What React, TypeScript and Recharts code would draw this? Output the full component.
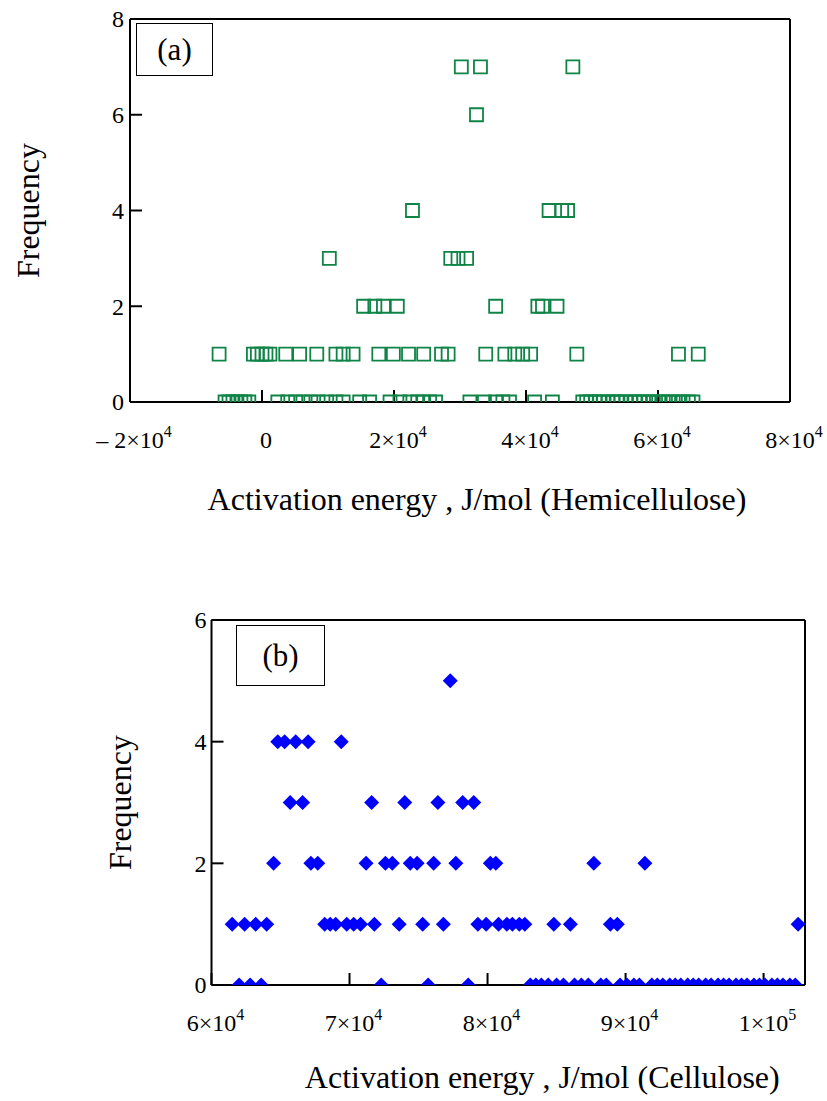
import React from "react";
import { Label, Scatter, ScatterChart, XAxis, YAxis } from "recharts";

const SERIF = '"Liberation Serif", "Times New Roman", serif';

// Hemicellulose: activation energies (J/mol) grouped by frequency
const hemiAt0 = [
  -5600, -5000, -4400, -3800, -3200, -2600, -2000, 2400, 3900, 5100, 6200, 7400,
  8500, 9800, 11200, 12300, 14800, 16300, 19400, 20900, 22400, 23600, 24500,
  25400, 26300, 31500, 33700, 35400, 36500, 37500, 41300, 44000, 48600, 49200,
  49800, 50500, 51100, 51700, 52400, 53200, 53800, 54400, 55100, 55900, 56500,
  57200, 57800, 58600, 59300, 60100, 60800, 61600, 62300, 63100, 63800, 64600,
  65300,
];
const hemiAt1 = [
  -6500, -1300, -700, 0, 600, 1200, 3600, 5700, 8300, 11200, 12300, 13800,
  17700, 19900, 22200, 24500, 27200, 28200, 33900, 36800, 38300, 39500, 40700,
  47700, 63100, 66100,
];
const hemiAt2 = [15400, 17100, 18400, 20500, 35400, 41800, 42500, 44700];
const hemiAt3 = [10200, 28600, 29700, 31000];
const hemiAt4 = [22800, 43500, 45400, 46300];
const hemiAt6 = [32500];
const hemiAt7 = [30200, 33100, 47100];

// Cellulose: activation energies (J/mol) grouped by frequency
const celluAt0 = [
  62000, 62800, 63600, 72300, 75700, 78600, 83100, 83500, 83900, 84400, 85000,
  85500, 86300, 86800, 87300, 88200, 88600, 89600, 90100, 90600, 91000, 91900,
  92300, 92700, 93200, 93600, 94000, 94500, 94900, 95300, 95800, 96200, 96700,
  97100, 97500, 98000, 98400, 98800, 99300, 99700, 100100, 100600, 101000,
  101400, 101900, 102300,
];
const celluAt1 = [
  61500, 62400, 63200, 64000, 68200, 68600, 69000, 69800, 70300, 70800, 71800,
  73600, 75300, 76800, 79300, 79900, 80800, 81400, 81800, 82300, 82700, 84800,
  86000, 88900, 89400, 102500,
];
const celluAt2 = [
  64500, 67200, 67700, 71200, 72600, 73100, 74400, 74900, 76100, 77700, 80200,
  80600, 87700, 91400,
];
const celluAt3 = [65700, 66600, 71600, 74000, 76400, 78200, 79000];
const celluAt4 = [64800, 65300, 66100, 67000, 69400];
const celluAt5 = [77300];

const hemiXTicks = [-20000, 0, 20000, 40000, 60000, 80000];
const hemiYTicks = [0, 2, 4, 6, 8];
const celluXTicks = [60000, 70000, 80000, 90000, 100000];
const celluYTicks = [0, 2, 4, 6];

type Pt = { x: number; y: number };

const toPoints = (rows: [number, number[]][]): Pt[] =>
  rows.flatMap(([freq, xs]) => xs.map((x) => ({ x, y: freq })));

const hemiData = toPoints([
  [0, hemiAt0],
  [1, hemiAt1],
  [2, hemiAt2],
  [3, hemiAt3],
  [4, hemiAt4],
  [6, hemiAt6],
  [7, hemiAt7],
]);

const celluData = toPoints([
  [0, celluAt0],
  [1, celluAt1],
  [2, celluAt2],
  [3, celluAt3],
  [4, celluAt4],
  [5, celluAt5],
]);

const axisStyle = { stroke: "#000", strokeWidth: 2 };

// sizes reserved for the axes
const LEFT_W = 60;
const BOTTOM_H = 60;
const TOP_H = 10;
const RIGHT_W = 10;

// open square; points sitting on the baseline only show their upper half
const OpenSquare = (props: any) => {
  const { cx, cy, payload } = props;
  const h = 6.5;
  const d =
    payload.y === 0
      ? `M${cx - h},${cy} L${cx - h},${cy - h} L${cx + h},${cy - h} L${cx + h},${cy}`
      : `M${cx - h},${cy - h} L${cx + h},${cy - h} L${cx + h},${cy + h} L${cx - h},${cy + h} Z`;
  return <path d={d} fill="none" stroke="#0f8446" strokeWidth={1.8} />;
};

const FilledDiamond = (props: any) => {
  const { cx, cy, payload } = props;
  const h = 7.5;
  const d =
    payload.y === 0
      ? `M${cx - h},${cy} L${cx},${cy - h} L${cx + h},${cy} Z`
      : `M${cx - h},${cy} L${cx},${cy - h} L${cx + h},${cy} L${cx},${cy + h} Z`;
  return <path d={d} fill="#0000ff" stroke="none" />;
};

// "m×10^e" tick labels
const PowerTick = (props: any) => {
  const { x, y, payload } = props;
  const v: number = payload.value;
  const common = {
    x: x + 4,
    y: y + 46,
    textAnchor: "middle" as const,
    fontFamily: SERIF,
    fontSize: 24,
    fill: "#000",
  };
  if (v === 0) return <text {...common}>0</text>;
  const exp = Math.floor(Math.log10(Math.abs(v)));
  const mant = Math.round(Math.abs(v) / Math.pow(10, exp));
  return (
    <text {...common}>
      {v < 0 ? "\u2013 " : ""}
      {mant}×10
      <tspan dy={-11} fontSize={16}>
        {exp}
      </tspan>
    </text>
  );
};

const PlainTick = (props: any) => {
  const { x, y, payload } = props;
  return (
    <text
      x={x}
      y={y}
      dy="0.35em"
      textAnchor="end"
      fontFamily={SERIF}
      fontSize={24}
      fill="#000"
    >
      {payload.value}
    </text>
  );
};

const xTitle = (text: string, dx: number, dy: number) => (props: any) => {
  const vb = props.viewBox || {};
  return (
    <text
      x={vb.x + vb.width / 2 + dx}
      y={vb.y + dy}
      textAnchor="middle"
      fontFamily={SERIF}
      fontSize={32}
      fill="#000"
    >
      {text}
    </text>
  );
};

const yTitle = (dx: number) => (props: any) => {
  const vb = props.viewBox || {};
  const cx = vb.x + vb.width - dx;
  const cy = vb.y + vb.height / 2;
  return (
    <text
      x={cx}
      y={cy}
      dy="0.35em"
      textAnchor="middle"
      transform={`rotate(-90, ${cx}, ${cy})`}
      fontFamily={SERIF}
      fontSize={32}
      fill="#000"
    >
      Frequency
    </text>
  );
};

const PanelTag: React.FC<{ text: string; left: number; top: number; w: number; h: number }> = ({
  text,
  left,
  top,
  w,
  h,
}) => (
  <div
    style={{
      position: "absolute",
      left,
      top,
      width: w,
      height: h,
      boxSizing: "border-box",
      border: "1.5px solid #000",
      background: "#fff",
      display: "flex",
      alignItems: "center",
      justifyContent: "center",
      fontFamily: SERIF,
      fontSize: 31,
      lineHeight: 1,
    }}
  >
    {text}
  </div>
);

const App: React.FC = () => {
  return (
    <div
      style={{
        position: "absolute",
        left: 0,
        top: 0,
        width: 827,
        height: 1101,
        background: "#fff",
        overflow: "hidden",
      }}
    >
      {/* (a) hemicellulose: plot box 130..790 x 19..402 */}
      <div style={{ position: "absolute", left: 0, top: 0 }}>
        <ScatterChart
          width={827}
          height={540}
          margin={{
            top: 19 - TOP_H,
            right: 37 - RIGHT_W,
            bottom: 138 - BOTTOM_H,
            left: 130 - LEFT_W,
          }}
        >
          <XAxis
            type="number"
            dataKey="x"
            domain={[-20000, 80000]}
            ticks={hemiXTicks}
            interval={0}
            height={BOTTOM_H}
            axisLine={axisStyle}
            tickLine={axisStyle}
            tickSize={-12}
            tickMargin={12}
            tick={<PowerTick />}
            allowDataOverflow
          >
            <Label content={xTitle("Activation energy , J/mol (Hemicellulose)", 17, 108)} />
          </XAxis>
          <XAxis
            xAxisId="top"
            orientation="top"
            type="number"
            domain={[-20000, 80000]}
            ticks={hemiXTicks}
            interval={0}
            height={TOP_H}
            axisLine={axisStyle}
            tickLine={axisStyle}
            tickSize={-12}
            tick={false}
            allowDataOverflow
          />
          <YAxis
            type="number"
            dataKey="y"
            domain={[0, 8]}
            ticks={hemiYTicks}
            interval={0}
            width={LEFT_W}
            axisLine={axisStyle}
            tickLine={axisStyle}
            tickSize={-12}
            tickMargin={18}
            tick={<PlainTick />}
            allowDataOverflow
          >
            <Label content={yTitle(102)} />
          </YAxis>
          <YAxis
            yAxisId="right"
            orientation="right"
            type="number"
            domain={[0, 8]}
            ticks={hemiYTicks}
            interval={0}
            width={RIGHT_W}
            axisLine={axisStyle}
            tickLine={axisStyle}
            tickSize={-12}
            tick={false}
            allowDataOverflow
          />
          <Scatter data={hemiData} shape={<OpenSquare />} isAnimationActive={false} />
        </ScatterChart>
        <PanelTag text="(a)" left={136} top={23} w={77} h={53} />
      </div>

      {/* (b) cellulose: plot box 211.5..805 x 620..985 */}
      <div style={{ position: "absolute", left: 0, top: 560 }}>
        <ScatterChart
          width={827}
          height={541}
          margin={{
            top: 60 - TOP_H,
            right: 22 - RIGHT_W,
            bottom: 116 - BOTTOM_H,
            left: 211.5 - LEFT_W,
          }}
        >
          <XAxis
            type="number"
            dataKey="x"
            domain={[60000, 103000]}
            ticks={celluXTicks}
            interval={0}
            height={BOTTOM_H}
            axisLine={axisStyle}
            tickLine={axisStyle}
            tickSize={-12}
            tickMargin={12}
            tick={<PowerTick />}
            allowDataOverflow
          >
            <Label content={xTitle("Activation energy , J/mol (Cellulose)", 34, 103)} />
          </XAxis>
          <XAxis
            xAxisId="top"
            orientation="top"
            type="number"
            domain={[60000, 103000]}
            ticks={celluXTicks}
            interval={0}
            height={TOP_H}
            axisLine={axisStyle}
            tickLine={axisStyle}
            tickSize={-12}
            tick={false}
            allowDataOverflow
          />
          <YAxis
            type="number"
            dataKey="y"
            domain={[0, 6]}
            ticks={celluYTicks}
            interval={0}
            width={LEFT_W}
            axisLine={axisStyle}
            tickLine={axisStyle}
            tickSize={-12}
            tickMargin={17}
            tick={<PlainTick />}
            allowDataOverflow
          >
            <Label content={yTitle(92)} />
          </YAxis>
          <YAxis
            yAxisId="right"
            orientation="right"
            type="number"
            domain={[0, 6]}
            ticks={celluYTicks}
            interval={0}
            width={RIGHT_W}
            axisLine={axisStyle}
            tickLine={axisStyle}
            tickSize={-12}
            tick={false}
            allowDataOverflow
          />
          <Scatter data={celluData} shape={<FilledDiamond />} isAnimationActive={false} />
        </ScatterChart>
        <PanelTag text="(b)" left={236} top={65} w={89} h={61} />
      </div>
    </div>
  );
};

export default App;
